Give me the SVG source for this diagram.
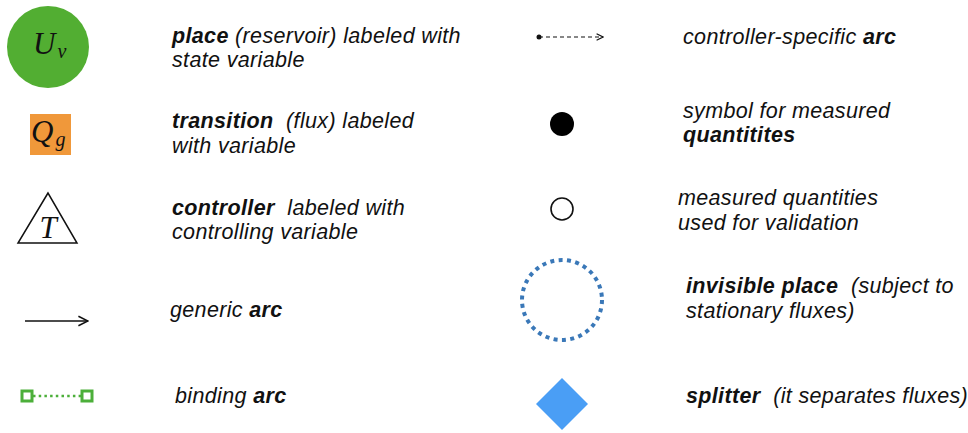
<svg xmlns="http://www.w3.org/2000/svg" width="968" height="433" viewBox="0 0 968 433">
  <style>
    .lbl { font-family: "Liberation Sans", Arial, sans-serif; font-style: italic; font-size: 21.5px; letter-spacing: 0.35px; fill: #111; white-space: pre; }
    .b { font-weight: bold; }
    .math { font-family: "Liberation Serif", serif; font-style: italic; fill: #111; }
  </style>
  <defs>
    <marker id="open-arrow" viewBox="0 0 10 10" refX="9" refY="5" markerWidth="8" markerHeight="8" markerUnits="userSpaceOnUse" orient="auto">
      <path d="M1,1 L9,5 L1,9" fill="none" stroke="#111" stroke-width="1.5"/>
    </marker>
    <marker id="open-arrow-big" viewBox="0 0 10 10" refX="9" refY="5" markerWidth="12" markerHeight="12" markerUnits="userSpaceOnUse" orient="auto">
      <path d="M1,1 L9,5 L1,9" fill="none" stroke="#111" stroke-width="1.3"/>
    </marker>
  </defs>

  <!-- place -->
  <g id="place">
    <circle cx="48" cy="47" r="41" fill="#52AE32"/>
    <text class="math" x="33" y="54" font-size="31">U<tspan font-size="20" dx="2" dy="4">v</tspan></text>
  </g>
  <text class="lbl" x="172" y="43"><tspan class="b">place</tspan> (reservoir) labeled with</text>
  <text class="lbl" x="172" y="67">state variable</text>

  <!-- transition -->
  <g id="transition">
    <rect x="30" y="114" width="41" height="41" fill="#F0983A"/>
    <text class="math" x="31" y="142" font-size="31">Q<tspan font-size="20" dx="2" dy="4">g</tspan></text>
  </g>
  <text class="lbl" x="172" y="128"><tspan class="b">transition</tspan>  (flux) labeled</text>
  <text class="lbl" x="172" y="153">with variable</text>

  <!-- controller -->
  <g id="controller">
    <polygon points="48,193 18,243 77,243" fill="#fff" stroke="#111" stroke-width="1.5"/>
    <text class="math" x="48" y="238" font-size="31" text-anchor="middle">T</text>
  </g>
  <text class="lbl" x="172" y="215"><tspan class="b">controller</tspan>  labeled with</text>
  <text class="lbl" x="172" y="239">controlling variable</text>

  <!-- measured quantity symbols -->
  <g id="measured">
    <circle cx="562" cy="124" r="12" fill="#000"/>
  </g>
  <text class="lbl" x="683" y="118">symbol for measured</text>
  <text class="lbl b" x="683" y="142">quantitites</text>

  <g id="validation">
    <circle cx="562" cy="209" r="11" fill="#fff" stroke="#111" stroke-width="1.6"/>
  </g>
  <text class="lbl" x="678" y="205">measured quantities</text>
  <text class="lbl" x="678" y="230">used for validation</text>

  <!-- invisible place -->
  <g id="invisible-place">
    <circle cx="562" cy="300" r="40" fill="none" stroke="#3A78B8" stroke-width="4" stroke-dasharray="4 4.4"/>
  </g>
  <text class="lbl" x="686" y="293"><tspan class="b">invisible place</tspan>  (subject to</text>
  <text class="lbl" x="686" y="318">stationary fluxes)</text>

  <!-- splitter -->
  <g id="splitter">
    <polygon points="562,378 588,404 562,430 536,404" fill="#4A9EF5"/>
  </g>
  <text class="lbl" x="686" y="403"><tspan class="b">splitter</tspan>  (it separates fluxes)</text>

  <!-- arcs -->
  <g id="arcs">
    <line x1="25" y1="321" x2="88" y2="321" stroke="#111" stroke-width="1.6" marker-end="url(#open-arrow-big)"/>
    <line x1="33" y1="396" x2="81" y2="396" stroke="#4CAF3A" stroke-width="2.5" stroke-dasharray="2.5 3.2"/>
    <rect x="22" y="391" width="10" height="10" fill="#fff" stroke="#4CAF3A" stroke-width="3"/>
    <rect x="82" y="391" width="10" height="10" fill="#fff" stroke="#4CAF3A" stroke-width="3"/>
    <circle cx="539" cy="37" r="2.5" fill="#111"/>
    <line x1="539" y1="37" x2="603" y2="37" stroke="#111" stroke-width="1.2" stroke-dasharray="4 3" marker-end="url(#open-arrow)"/>
  </g>
  <text class="lbl" x="170" y="317">generic <tspan class="b">arc</tspan></text>
  <text class="lbl" x="175" y="403">binding <tspan class="b">arc</tspan></text>
  <text class="lbl" x="683" y="44">controller-specific <tspan class="b">arc</tspan></text>
</svg>
